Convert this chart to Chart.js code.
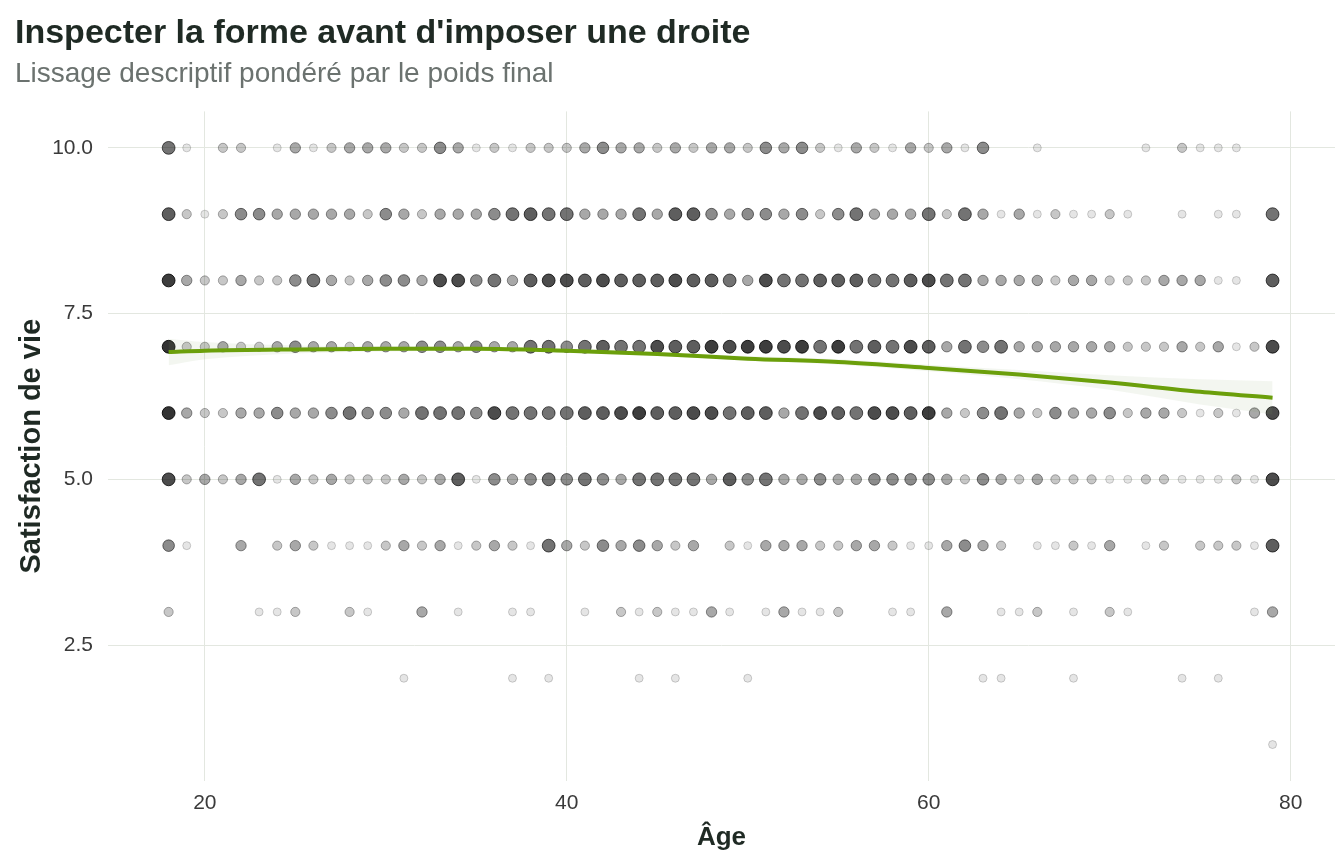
<!DOCTYPE html>
<html lang="fr">
<head>
<meta charset="utf-8">
<title>Satisfaction de vie selon l'âge</title>
<script src="https://cdn.jsdelivr.net/npm/chart.js@4.4.1/dist/chart.umd.min.js"></script>
<style>
  html, body { margin: 0; padding: 0; background: #fff; }
  #wrap { width: 1344px; height: 864px; }
</style>
</head>
<body>
<div id="wrap"><canvas id="chart"></canvas></div>
<script>
// ages observed, 18..79
const ages = [];
for (let a = 18; a <= 79; a++) ages.push(a);

const levels = [10, 9, 8, 7, 6, 5, 4, 3, 2, 1];

// number of respondents per age (18..79), one array per score
const count10 = [5,1,0,2,2,0,1,3,1,2, 3,3,3,2,2,4,3,1,2,1, 2,2,2,3,4,3,3,2,3,2, 3,3,2,4,3,4,2,1,3,2, 1,3,2,3,1,4,0,0,1,0, 0,0,0,0,1,0,2,1,1,1, 0,0];
const count9  = [6,2,1,2,4,4,3,3,3,3, 3,2,4,3,2,3,3,3,4,5, 6,5,5,3,3,3,5,3,6,6, 4,3,4,4,3,4,2,4,5,3, 3,3,5,2,5,3,1,3,1,2, 1,1,2,1,0,0,1,0,1,1, 0,5];
const count8  = [8,3,2,2,3,2,2,4,5,3, 2,3,4,4,3,7,7,4,5,3, 6,7,7,6,7,6,6,6,7,6, 6,5,3,7,5,5,6,6,6,5, 5,6,7,5,5,3,3,3,3,2, 3,3,2,2,2,3,3,3,1,1, 0,6];
const count7  = [9,2,2,3,2,2,3,4,3,3, 2,3,3,3,4,4,3,4,3,3, 5,5,4,5,6,5,5,7,6,6, 8,7,8,8,7,8,5,8,5,6, 5,7,6,3,5,4,5,3,3,3, 3,3,3,2,2,2,3,2,3,1, 2,7];
const count6  = [9,3,2,2,3,3,4,3,3,4, 5,4,4,3,5,5,5,4,7,5, 5,5,5,6,6,7,8,6,6,7, 7,5,6,6,3,5,7,6,5,7, 7,6,8,3,2,4,5,3,2,4, 3,3,4,2,3,3,2,1,2,1, 3,7];
const count5  = [7,2,3,2,3,5,1,3,2,3, 2,2,2,3,2,3,6,1,4,3, 4,5,4,5,4,3,5,5,5,5, 3,6,4,5,3,3,4,3,3,4, 4,4,4,3,2,4,3,2,3,2, 2,2,1,1,2,2,1,1,1,2, 1,7];
const count4  = [4,1,0,0,3,0,2,3,2,1, 1,1,2,3,2,3,1,2,3,2, 1,5,3,2,4,3,4,3,2,3, 0,2,1,3,3,3,2,2,3,3, 2,1,1,3,4,3,2,0,1,1, 2,1,3,0,1,2,0,2,2,2, 1,6];
const count3  = [2,0,0,0,0,1,1,2,0,0, 2,1,0,0,3,0,1,0,0,1, 1,0,0,1,0,2,1,2,1,1, 3,1,0,1,3,1,1,2,0,0, 1,1,0,3,0,0,1,1,2,0, 1,0,2,1,0,0,0,0,0,0, 1,3];
const count2  = [0,0,0,0,0,0,0,0,0,0, 0,0,0,1,0,0,0,0,0,1, 0,1,0,0,0,0,1,0,1,0, 0,0,1,0,0,0,0,0,0,0, 0,0,0,0,0,1,1,0,0,0, 1,0,0,0,0,0,1,0,1,0, 0,0];
const count1  = [0,0,0,0,0,0,0,0,0,0, 0,0,0,0,0,0,0,0,0,0, 0,0,0,0,0,0,0,0,0,0, 0,0,0,0,0,0,0,0,0,0, 0,0,0,0,0,0,0,0,0,0, 0,0,0,0,0,0,0,0,0,0, 0,1];
const countsByLevel = [count10, count9, count8, count7, count6, count5, count4, count3, count2, count1];

// weighted smooth and its band
const smoothAges = [18, 20, 25, 30, 35, 40, 45, 50, 55, 60, 65, 70, 75, 79];
const smoothFit  = [6.92, 6.94, 6.96, 6.97, 6.97, 6.94, 6.89, 6.82, 6.77, 6.68, 6.58, 6.46, 6.32, 6.23];
const bandHigh   = [7.12, 7.07, 7.02, 7.01, 7.00, 6.97, 6.92, 6.86, 6.81, 6.73, 6.65, 6.57, 6.51, 6.48];
const bandLow    = [6.72, 6.81, 6.90, 6.93, 6.94, 6.91, 6.86, 6.79, 6.73, 6.63, 6.51, 6.35, 6.13, 5.98];

const xTicks = [20, 40, 60, 80];
const yTicks = [2.5, 5, 7.5, 10];

// darkness of a stack of overlapping translucent points
const alphaByCount = [0, 0.1, 0.22, 0.34, 0.45, 0.55, 0.63, 0.7, 0.76, 0.8];

const cells = [];
levels.forEach((lvl, li) => {
  countsByLevel[li].forEach((n, i) => {
    if (n > 0) cells.push({ x: ages[i], y: lvl, n });
  });
});

const toXY = (xs, ys) => xs.map((x, i) => ({ x, y: ys[i] }));
const alphaOf = (n) => alphaByCount[Math.min(n, alphaByCount.length - 1)];

const fontFamily = "'Liberation Sans', Arial, sans-serif";
const gridColor = "#e3e7e0";
const tickColor = "#3a3a3a";
const titleColor = "#1f2a24";

new Chart(document.getElementById("chart"), {
  type: "scatter",
  data: {
    datasets: [
      {
        type: "line",
        label: "Lissage",
        data: toXY(smoothAges, smoothFit),
        borderColor: "#6b9f0b",
        borderWidth: 4,
        pointRadius: 0,
        cubicInterpolationMode: "monotone",
        fill: false,
        order: 0,
      },
      {
        type: "line",
        label: "Bande haute",
        data: toXY(smoothAges, bandHigh),
        borderWidth: 0,
        pointRadius: 0,
        cubicInterpolationMode: "monotone",
        fill: "+1",
        backgroundColor: "rgba(120, 150, 90, 0.09)",
        order: 1,
      },
      {
        type: "line",
        label: "Bande basse",
        data: toXY(smoothAges, bandLow),
        borderWidth: 0,
        pointRadius: 0,
        cubicInterpolationMode: "monotone",
        fill: false,
        order: 1,
      },
      {
        label: "Répondants",
        data: cells,
        order: 2,
        pointRadius: (ctx) => 4 + Math.min(ctx.raw.n - 1, 4) * 0.6,
        backgroundColor: (ctx) => `rgba(0,0,0,${alphaOf(ctx.raw.n)})`,
        borderColor: (ctx) => `rgba(0,0,0,${Math.min(0.9, alphaOf(ctx.raw.n) + 0.08)})`,
        borderWidth: 1,
      },
    ],
  },
  options: {
    responsive: true,
    maintainAspectRatio: false,
    devicePixelRatio: 1,
    animation: false,
    layout: { padding: { left: 15, right: 9, top: 0, bottom: 0 } },
    plugins: {
      legend: { display: false },
      tooltip: { enabled: false },
      title: {
        display: true,
        text: "Inspecter la forme avant d'imposer une droite",
        align: "start",
        color: titleColor,
        font: { family: fontFamily, size: 34, weight: "bold" },
        padding: { top: 13, bottom: 4 },
      },
      subtitle: {
        display: true,
        text: "Lissage descriptif pondéré par le poids final",
        align: "start",
        color: "#6b726f",
        font: { family: fontFamily, size: 28 },
        padding: { top: 0, bottom: 20 },
      },
    },
    scales: {
      x: {
        type: "linear",
        min: 14.65,
        max: 82.45,
        afterBuildTicks: (scale) => { scale.ticks = xTicks.map((value) => ({ value })); },
        afterFit: (scale) => { scale.height = 83; },
        ticks: {
          color: tickColor,
          font: { family: fontFamily, size: 21 },
          padding: 10,
          callback: (v) => String(v),
        },
        grid: { color: gridColor, drawTicks: false },
        border: { display: false },
        title: {
          display: true,
          text: "Âge",
          color: titleColor,
          font: { family: fontFamily, size: 26, weight: "bold" },
          padding: { top: 0, bottom: 11 },
        },
      },
      y: {
        type: "linear",
        min: 0.45,
        max: 10.55,
        afterBuildTicks: (scale) => { scale.ticks = yTicks.map((value) => ({ value })); },
        afterFit: (scale) => { scale.width = 93; },
        ticks: {
          color: tickColor,
          font: { family: fontFamily, size: 21 },
          padding: 15,
          callback: (v) => Number(v).toFixed(1),
        },
        grid: { color: gridColor, drawTicks: false },
        border: { display: false },
        title: {
          display: true,
          text: "Satisfaction de vie",
          color: titleColor,
          font: { family: fontFamily, size: 29, weight: "bold" },
          padding: 0,
        },
      },
    },
  },
});
</script>
</body>
</html>
